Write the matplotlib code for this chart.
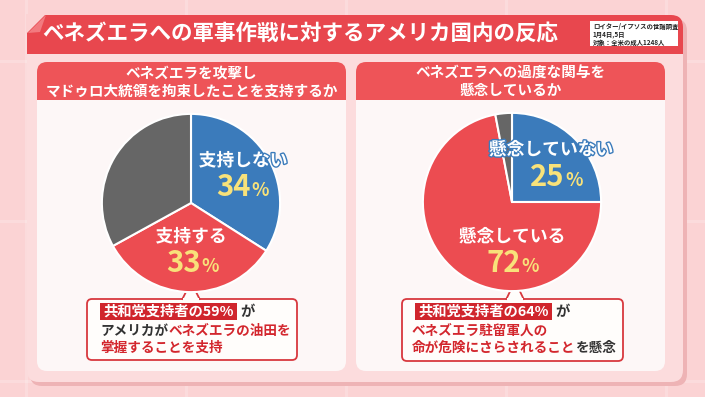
import matplotlib.pyplot as plt
from matplotlib.patches import FancyBboxPatch, Rectangle, Polygon
import matplotlib.patheffects as pe

plt.rcParams['font.family'] = ['Noto Sans CJK JP', 'DejaVu Sans']

# donnees
title = "ベネズエラへの軍事作戦に対するアメリカ国内の反応"
note_lines = ["ロイター/イプソスの世論調査", "1月4日,5日", "対象：全米の成人1248人"]

q_left = ["ベネズエラを攻撃し", "マドゥロ大統領を拘束したことを支持するか"]
labels_left = ["支持しない", "支持する", "その他"]
values_left = [34, 33, 33]

q_right = ["ベネズエラへの過度な関与を", "懸念しているか"]
labels_right = ["懸念していない", "懸念している", "その他"]
values_right = [25, 72, 3]

gop_left = 59
gop_right = 64

BG = "#fbd3d4"
PANEL = "#fcdcdd"
RED_HEAD = "#e8474e"
CARD = "#fdf7f7"
CARD_HEAD = "#ee5458"
BLUE = "#3b7bbb"
RED = "#ec4c51"
GRAY = "#666666"
YELLOW = "#f8e27a"
TXT_RED = "#d3262d"
TXT_DARK = "#333333"

W, H = 705, 397
fig = plt.figure(figsize=(W / 100, H / 100), dpi=100)
fig.patch.set_facecolor(BG)

# axe de fond en pixels
bg = fig.add_axes([0, 0, 1, 1], zorder=0)
bg.set_xlim(0, W)
bg.set_ylim(H, 0)
bg.axis('off')

# motif de fond
for xv in [25, 185, 345, 505, 665]:
    bg.add_patch(Rectangle((xv, 0), 3, H, color="white", alpha=0.2, lw=0))
for yv in [60, 220, 380]:
    bg.add_patch(Rectangle((0, yv), W, 3, color="white", alpha=0.2, lw=0))


def rbox(ax, x0, y0, x1, y1, color, r=10, **kw):
    p = FancyBboxPatch((x0, y0), x1 - x0, y1 - y0,
                       boxstyle="round,pad=0,rounding_size=%d" % r,
                       fc=color, **kw)
    ax.add_patch(p)
    return p


# grand panneau
rbox(bg, 30, 19, 687, 386, "#eeb3b5", r=12, ec="none")
rbox(bg, 27, 15, 683, 382, PANEL, r=12, ec="none")
rbox(bg, 27, 15, 683, 60, RED_HEAD, r=12, ec="none")
bg.add_patch(Rectangle((27, 40), 656, 14, fc=RED_HEAD, lw=0))
bg.add_patch(Rectangle((27, 54), 656, 10, fc=PANEL, lw=0))
# coin replie
bg.add_patch(Polygon([(26, 14), (46, 14), (26, 34)], closed=True, fc=BG, lw=0))
bg.add_patch(Polygon([(46, 15), (28, 33), (40, 32)], closed=True, fc="#f27a7f", lw=0))

bg.text(42, 33, title, color="white", fontsize=15.5, fontweight="bold",
        va="center", ha="left")

# note en haut a droite
bg.add_patch(Rectangle((590, 21), 88, 25, fc="white", lw=0))
for i, ln in enumerate(note_lines):
    bg.text(593, 26 + i * 8, ln, fontsize=4.6, fontweight="bold",
            color="#222222", va="center", ha="left")

cards = [(37, 346, q_left), (356, 665, q_right)]
for x0, x1, q in cards:
    rbox(bg, x0, 62, x1, 371, CARD, r=10, ec="none")
    rbox(bg, x0, 62, x1, 100, CARD_HEAD, r=10, ec="none")
    bg.add_patch(Rectangle((x0, 85), x1 - x0, 15, fc=CARD_HEAD, lw=0))
    cx = (x0 + x1) / 2
    bg.text(cx, 73, q[0], color="white", fontsize=10.5, fontweight="bold",
            ha="center", va="center")
    bg.text(cx, 90, q[1], color="white", fontsize=10.5, fontweight="bold",
            ha="center", va="center")


def callout(ax, x0, y0, x1, y1, tip_x, tip_y):
    rbox(ax, x0, y0, x1, y1, "#fffdfb", r=5, ec="#d8383e", lw=1.3, zorder=3)
    tri = Polygon([(tip_x - 9, y0 + 0.8), (tip_x, tip_y), (tip_x + 9, y0 + 0.8)],
                  closed=False, fc="#fffdfb", ec="#d8383e", lw=1.3, zorder=4)
    ax.add_patch(tri)
    ax.add_patch(Rectangle((tip_x - 8, y0 - 1), 16, 3, fc="#fffdfb", lw=0, zorder=4))


callout(bg, 87, 299, 297, 360, 191, 282)
callout(bg, 402, 299, 623, 361, 515, 281)

# camemberts
R = 90
pies = [(191, 203, values_left), (512, 202, values_right)]
for cx, cy, vals in pies:
    pax = fig.add_axes([(cx - R) / W, 1 - (cy + R) / H, 2 * R / W, 2 * R / H], zorder=1)
    pax.pie(vals, colors=[BLUE, RED, GRAY], startangle=90, counterclock=False,
            radius=1, wedgeprops=dict(edgecolor="white", linewidth=1.5))
    pax.set_xlim(-1.01, 1.01)
    pax.set_ylim(-1.01, 1.01)
    pax.set_aspect("auto")
    pax.axis("off")

# axe du dessus pour le texte
top = fig.add_axes([0, 0, 1, 1], zorder=2)
top.set_xlim(0, W)
top.set_ylim(H, 0)
top.axis("off")
top.patch.set_alpha(0)

rend = fig.canvas.get_renderer()


def width_of(s, size):
    t = top.text(0, 0, s, fontsize=size, fontweight="bold")
    w = t.get_window_extent(rend).width
    t.remove()
    return w


def pct(x, y, v):
    a = str(v)
    wa = width_of(a, 21)
    wb = width_of("%", 13)
    xs = x - (wa + wb) / 2
    top.text(xs, y, a, fontsize=21, fontweight="bold", color=YELLOW, va="baseline", ha="left")
    top.text(xs + wa + 1, y, "%", fontsize=13, fontweight="bold", color=YELLOW, va="baseline", ha="left")


def label(x, y, s, stroke):
    top.text(x, y, s, fontsize=12.8, fontweight="bold", color="white", ha="center", va="center",
             path_effects=[pe.withStroke(linewidth=2, foreground=stroke)])


label(243, 161, labels_left[0], BLUE)
pct(242, 196, values_left[0])
label(191, 237, labels_left[1], RED)
pct(192, 272, values_left[1])

label(551, 150, labels_right[0], BLUE)
pct(556, 186, values_right[0])
label(512, 237, labels_right[1], RED)
pct(512, 272, values_right[1])


def line(x0, y, segs, size=9.8):
    # position de chaque morceau = largeur (prefixe + morceau) - largeur (morceau)
    prefix = ""
    extra = 0
    for s, color, hl in segs:
        w = width_of(s, size)
        x = x0 + extra + (width_of(prefix + s, size) - w if prefix else 0)
        top.text(x, y, s, fontsize=size, fontweight="bold", color=color,
                 va="center", ha="left", zorder=6)
        if hl:
            top.add_patch(Rectangle((x - 3, y - 9), w + 6, 17, fc="#d0252c", lw=0, zorder=5))
            extra += 7
        prefix += s


line(103, 312, [("共和党支持者の%d%%" % gop_left, "white", True), ("が", TXT_DARK, False)], 10.3)
line(100, 331, [("アメリカが", TXT_DARK, False), ("ベネズエラの油田を", TXT_RED, False)])
line(100, 348, [("掌握することを支持", TXT_RED, False)])

line(418, 312, [("共和党支持者の%d%%" % gop_right, "white", True), ("が", TXT_DARK, False)], 10.3)
line(412, 331, [("ベネズエラ駐留軍人の", TXT_RED, False)])
line(412, 348, [("命が危険にさらされること", TXT_RED, False), ("を懸念", TXT_DARK, False)])

fig.savefig("out.png", dpi=100)
